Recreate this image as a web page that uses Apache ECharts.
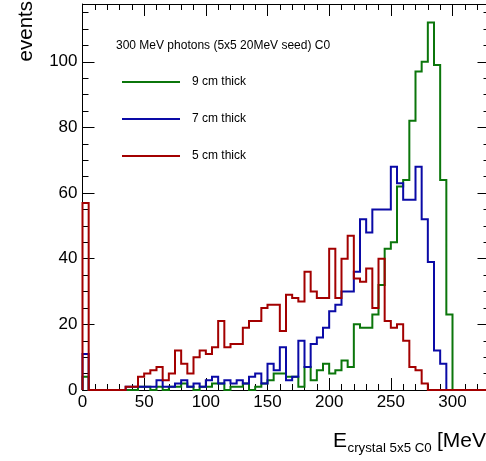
<!DOCTYPE html>
<html>
<head>
<meta charset="utf-8">
<script src="https://cdn.jsdelivr.net/npm/echarts@6/dist/echarts.min.js"></script>
<style>
html,body{margin:0;padding:0;background:#fff;}
#chart{width:486px;height:461px;}
</style>
</head>
<body>
<div id="chart"></div>
<script>
// Histogram: 5 MeV bins from 0 to 330 MeV
const binWidth = 5;
const xMin = 0;
const xMax = 330;
const yMax = 117.6;
const xTicks = [0, 50, 100, 150, 200, 250, 300];
const yTicks = [0, 20, 40, 60, 80, 100];

const seriesNames = ['9 cm thick', '7 cm thick', '5 cm thick'];
const seriesColors = ['#0b760b', '#0a0aa6', '#a30000'];

// counts per bin (bin i covers [5i, 5i+5))
const green9cm = [
  4, 0, 0, 0, 0, 0, 0, 0, 0, 1,
  1, 0, 1, 0, 1, 1, 2, 1, 0, 1,
  1, 2, 2, 0, 1, 1, 2, 0, 1, 2,
  3, 5, 5, 4, 4, 1, 7, 3, 6, 8,
  5, 6, 9, 7, 20, 19, 19, 23, 32, 43,
  45, 62, 64, 82, 97, 100, 112, 99, 64, 23,
  0, 0, 0, 0, 0, 0
];
const blue7cm = [
  11, 0, 0, 0, 0, 0, 0, 1, 1, 1,
  1, 1, 3, 1, 1, 2, 3, 1, 2, 1,
  3, 4, 2, 3, 2, 3, 2, 4, 5, 2,
  8, 6, 13, 3, 4, 15, 7, 14, 16, 19,
  24, 26, 30, 30, 36, 52, 48, 55, 55, 55,
  68, 63, 58, 58, 68, 52, 39, 12, 8, 0,
  0, 0, 0, 0, 0, 0
];
const red5cm = [
  57, 0, 0, 0, 0, 0, 0, 1, 1, 4,
  5, 6, 7, 3, 5, 12, 8, 5, 10, 12,
  11, 13, 21, 13, 14, 14, 19, 21, 21, 25,
  26, 26, 18, 29, 28, 27, 36, 30, 28, 28,
  43, 28, 40, 47, 34, 33, 37, 25, 40, 21,
  19, 20, 15, 7, 6, 2, 0, 0, 0, 0,
  0, 0, 0, 0, 0, 0
];

const legendTitle = '300 MeV photons (5x5 20MeV seed) C0';
const yTitle = 'events';
const xTitleMain = 'E';
const xTitleSub = 'crystal 5x5 C0';
const xTitleUnit = '[MeV]';

function toSteps(vals) {
  const pts = [[xMin, 0]];
  vals.forEach((v, i) => pts.push([xMin + i * binWidth, v]));
  const end = xMin + vals.length * binWidth;
  pts.push([end, vals[vals.length - 1]]);
  pts.push([end, 0]);
  return pts;
}

const FONT = '"Liberation Sans", Arial, Helvetica, sans-serif';
const seriesData = [green9cm, blue7cm, red5cm];

const chart = echarts.init(document.getElementById('chart'), null, {renderer: 'canvas'});

const axisCommon = {
  type: 'value',
  splitLine: {show: false},
  axisLine: {show: true, onZero: false, lineStyle: {color: '#000', width: 1}},
  axisTick: {show: true, inside: true, length: 12, lineStyle: {color: '#000', width: 1}},
  minorTick: {show: true, length: 6, lineStyle: {color: '#000', width: 1}},
};

const option = {
  animation: false,
  backgroundColor: '#fff',
  title: {
    text: legendTitle,
    left: 116,
    top: 40,
    padding: 0,
    textStyle: {fontSize: 12, fontWeight: 'normal', color: '#000', fontFamily: FONT}
  },
  legend: {
    orient: 'vertical',
    left: 122,
    top: 76,
    padding: 0,
    itemWidth: 58,
    itemHeight: 2,
    itemGap: 25,
    icon: 'rect',
    selectedMode: false,
    data: seriesNames,
    textStyle: {fontSize: 12, color: '#000', fontFamily: FONT, lineHeight: 12, padding: [0, 0, 0, 7]}
  },
  grid: {left: 82.5, top: 4, width: 407, height: 386, outerBoundsMode: 'none', containLabel: false},
  xAxis: [
    Object.assign({}, axisCommon, {
      position: 'bottom', min: xMin, max: xMax, interval: 50,
      minorTick: Object.assign({}, axisCommon.minorTick, {splitNumber: 5}),
      axisLabel: {show: true, fontSize: 17, color: '#000', fontFamily: FONT, margin: 4, showMaxLabel: false,
        formatter: v => xTicks.includes(v) ? String(v) : ''}
    }),
    Object.assign({}, axisCommon, {
      position: 'top', min: xMin, max: xMax, interval: 50,
      minorTick: Object.assign({}, axisCommon.minorTick, {splitNumber: 5}),
      axisLabel: {show: false}
    })
  ],
  yAxis: [
    Object.assign({}, axisCommon, {
      position: 'left', min: 0, max: yMax, interval: 20,
      minorTick: Object.assign({}, axisCommon.minorTick, {splitNumber: 4}),
      axisLabel: {show: true, fontSize: 17, color: '#000', fontFamily: FONT, margin: 5, showMaxLabel: false,
        formatter: v => yTicks.includes(v) ? String(v) : ''}
    }),
    Object.assign({}, axisCommon, {
      position: 'right', min: 0, max: yMax, interval: 20,
      minorTick: Object.assign({}, axisCommon.minorTick, {splitNumber: 4}),
      axisLabel: {show: false}
    })
  ],
  series: seriesNames.map((name, k) => ({
    name: name,
    type: 'line',
    step: 'end',
    xAxisIndex: 0,
    yAxisIndex: 0,
    symbol: 'none',
    showSymbol: false,
    color: seriesColors[k],
    lineStyle: {color: seriesColors[k], width: 2, join: 'miter', cap: 'butt'},
    data: toSteps(seriesData[k]),
    z: 2 + k
  })),
  graphic: [
    {type: 'text', x: 26.5, y: 1, rotation: Math.PI / 2,
      style: {text: yTitle, font: '20.5px ' + FONT, fill: '#000', align: 'right', verticalAlign: 'middle'}},
    {type: 'text', x: 333, y: 441.5,
      style: {text: xTitleMain, font: '21px ' + FONT, fill: '#000', align: 'left', verticalAlign: 'middle'}},
    {type: 'text', x: 347.5, y: 448,
      style: {text: xTitleSub, font: '13.3px ' + FONT, fill: '#000', align: 'left', verticalAlign: 'middle'}},
    {type: 'text', x: 437, y: 441.5,
      style: {text: xTitleUnit, font: '21px ' + FONT, fill: '#000', align: 'left', verticalAlign: 'middle'}}
  ]
};

chart.setOption(option);
</script>
</body>
</html>
